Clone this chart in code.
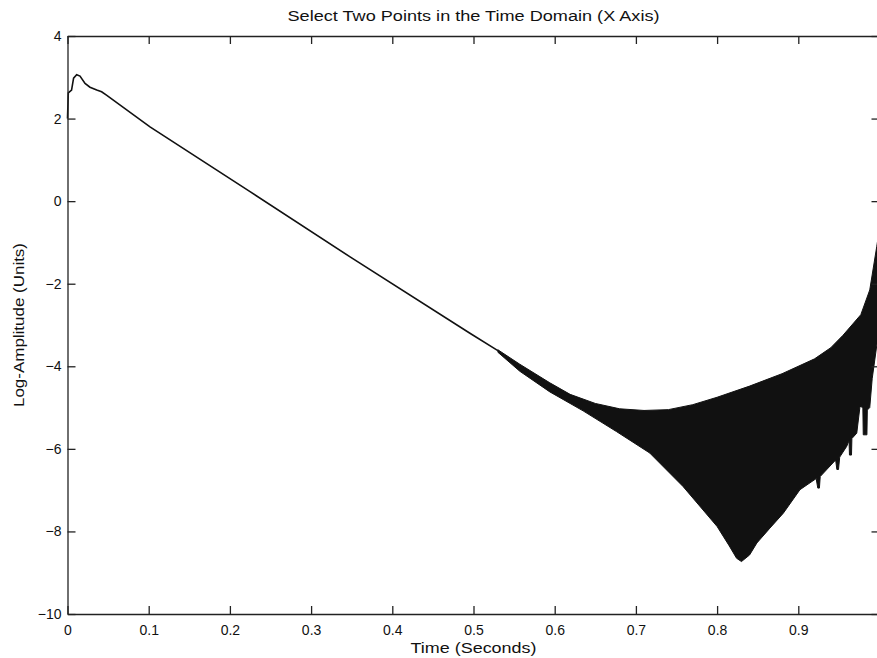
<!DOCTYPE html>
<html>
<head>
<meta charset="utf-8">
<script src="https://cdn.jsdelivr.net/npm/d3@7"></script>
<style>
  html, body { margin: 0; padding: 0; background: #fff; }
  svg { display: block; overflow: hidden; }
</style>
</head>
<body>
<div id="chart"></div>
<script>
'use strict'

// single trace, before the oscillation opens up
var traceTime = [0, 0.001, 0.005, 0.0075, 0.0113, 0.0154, 0.0216, 0.0277, 0.036, 0.042, 0.048, 0.1016, 0.2248, 0.348, 0.4956, 0.53]
var traceValue = [2.0, 2.62, 2.69, 2.98, 3.06, 3.03, 2.85, 2.76, 2.69, 2.65, 2.57, 1.80, 0.23, -1.35, -3.20, -3.62]

// upper edge of the dense oscillating band
var upperTime = [0.53, 0.557, 0.594, 0.619, 0.65, 0.68, 0.71, 0.74, 0.77, 0.80, 0.84, 0.88, 0.92, 0.94, 0.955, 0.966, 0.977, 0.988, 0.9966, 0.9985, 1.0]
var upperValue = [-3.60, -3.95, -4.40, -4.68, -4.90, -5.03, -5.07, -5.05, -4.93, -4.75, -4.48, -4.18, -3.82, -3.55, -3.25, -3.00, -2.75, -2.15, -1.10, -0.85, -0.6]

// lower edge of the band, spikes included
var lowerTime = [0.53, 0.557, 0.594, 0.635, 0.676, 0.717, 0.758, 0.80, 0.815, 0.824, 0.830, 0.840, 0.849, 0.865, 0.8815, 0.902, 0.922, 0.924, 0.926, 0.927, 0.946, 0.9475, 0.9495, 0.951, 0.9596, 0.9625, 0.963, 0.9655, 0.966, 0.972, 0.976, 0.9795, 0.980, 0.9845, 0.985, 0.988, 0.991, 0.9966, 1.0]
var lowerValue = [-3.66, -4.12, -4.62, -5.08, -5.58, -6.10, -6.91, -7.88, -8.35, -8.65, -8.73, -8.57, -8.28, -7.92, -7.56, -6.99, -6.72, -6.95, -6.95, -6.67, -6.27, -6.50, -6.50, -6.20, -5.94, -5.80, -6.15, -6.15, -5.75, -5.62, -4.97, -5.00, -5.66, -5.66, -5.06, -5.00, -4.30, -3.50, -3.0]

// tick at 1 sits past the right edge of the picture, so it is left out
var xTicks = [0, 0.1, 0.2, 0.3, 0.4, 0.5, 0.6, 0.7, 0.8, 0.9]
var yTicks = [-10, -8, -6, -4, -2, 0, 2, 4]

var titleText = 'Select Two Points in the Time Domain (X Axis)'
var xLabelText = 'Time (Seconds)'
var yLabelText = 'Log-Amplitude (Units)'

var width = 877
var height = 658
var margin = { top: 36, right: -2.5, bottom: 44, left: 67.5 }
var fontFamily = '"Liberation Sans", Arial, Helvetica, sans-serif'

var x = d3
  .scaleLinear()
  .domain([0, 1])
  .range([margin.left, width - margin.right])

var y = d3
  .scaleLinear()
  .domain([-10, 4])
  .range([height - margin.bottom, margin.top])

var svg = d3
  .select('#chart')
  .append('svg')
  .attr('width', width)
  .attr('height', height)

var plot = svg.append('g')

// band polygon: upper edge forward, lower edge back
var bandPoints = upperTime
  .map(function(t, i) {
    return [t, upperValue[i]]
  })
  .concat(
    lowerTime
      .map(function(t, i) {
        return [t, lowerValue[i]]
      })
      .reverse()
  )

var line = d3
  .line()
  .x(function(d) {
    return x(d[0])
  })
  .y(function(d) {
    return y(d[1])
  })

plot
  .append('path')
  .attr('d', line(bandPoints) + 'Z')
  .attr('fill', '#111')
  .attr('stroke', '#111')
  .attr('stroke-width', 1)

plot
  .append('path')
  .datum(
    traceTime.map(function(t, i) {
      return [t, traceValue[i]]
    })
  )
  .attr('d', line)
  .attr('fill', 'none')
  .attr('stroke', '#111')
  .attr('stroke-width', 1.6)

function styleAxis(g) {
  g.select('.domain')
    .attr('stroke', '#222')
    .attr('stroke-width', 1.3)
  g.selectAll('.tick line')
    .attr('stroke', '#222')
    .attr('stroke-width', 1.3)
  g.selectAll('text')
    .attr('font-family', fontFamily)
    .attr('font-size', '14px')
    .attr('fill', '#111')
}

var fmtX = d3.format('~g')
var fmtY = d3.format('d')

svg
  .append('g')
  .attr('transform', 'translate(0,' + y(-10) + ')')
  .call(
    d3
      .axisBottom(x)
      .tickValues(xTicks)
      .tickFormat(fmtX)
      .tickSizeInner(-8)
      .tickSizeOuter(0)
      .tickPadding(11)
  )
  .call(styleAxis)

svg
  .append('g')
  .attr('transform', 'translate(0,' + y(4) + ')')
  .call(
    d3
      .axisTop(x)
      .tickValues(xTicks)
      .tickFormat('')
      .tickSizeInner(-8)
      .tickSizeOuter(0)
  )
  .call(styleAxis)

svg
  .append('g')
  .attr('transform', 'translate(' + x(0) + ',0)')
  .call(
    d3
      .axisLeft(y)
      .tickValues(yTicks)
      .tickFormat(fmtY)
      .tickSizeInner(-8)
      .tickSizeOuter(0)
      .tickPadding(6)
  )
  .call(styleAxis)

svg
  .append('g')
  .attr('transform', 'translate(' + x(1) + ',0)')
  .call(
    d3
      .axisRight(y)
      .tickValues(yTicks)
      .tickFormat('')
      .tickSizeInner(-8)
      .tickSizeOuter(0)
  )
  .call(styleAxis)

// title and axis labels
svg
  .append('text')
  .attr('x', (x(0) + x(1)) / 2)
  .attr('y', 21)
  .attr('text-anchor', 'middle')
  .attr('font-family', fontFamily)
  .attr('font-size', '14px')
  .attr('fill', '#111')
  .attr('textLength', 372)
  .attr('lengthAdjust', 'spacingAndGlyphs')
  .text(titleText)

svg
  .append('text')
  .attr('x', (x(0) + x(1)) / 2)
  .attr('y', 653)
  .attr('text-anchor', 'middle')
  .attr('font-family', fontFamily)
  .attr('font-size', '15px')
  .attr('fill', '#111')
  .attr('textLength', 126)
  .attr('lengthAdjust', 'spacingAndGlyphs')
  .text(xLabelText)

svg
  .append('text')
  .attr('transform', 'translate(24,' + (y(4) + y(-10)) / 2 + ') rotate(-90)')
  .attr('text-anchor', 'middle')
  .attr('font-family', fontFamily)
  .attr('font-size', '15px')
  .attr('fill', '#111')
  .attr('textLength', 164)
  .attr('lengthAdjust', 'spacingAndGlyphs')
  .text(yLabelText)
</script>
</body>
</html>
